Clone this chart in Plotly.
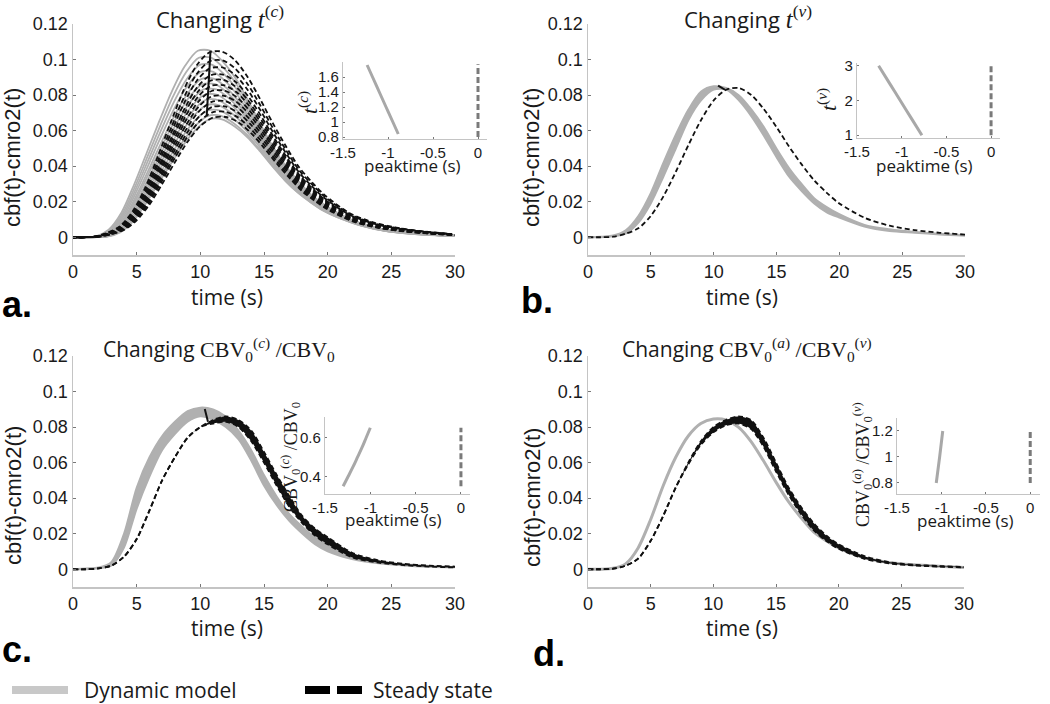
import plotly.graph_objects as go

W, H = 1050, 704

# ---------------- data ----------------
T = [0, 1, 2, 3, 4, 5, 6, 7, 8, 9, 10, 11, 12, 13, 14, 15, 16, 17, 18, 19, 20, 22, 24, 26, 28, 30]

# panel a: normalised response shapes, per-curve peak heights and peak-time offsets
A_GRAY_SHAPE = [0, 0, 0.005, 0.04, 0.13, 0.28, 0.45, 0.62, 0.78, 0.91, 0.99, 0.99, 0.93, 0.84, 0.72,
                0.59, 0.47, 0.37, 0.29, 0.22, 0.17, 0.095, 0.05, 0.028, 0.016, 0.01]
A_GRAY_PEAK = [0.106, 0.102, 0.098, 0.094, 0.090, 0.087, 0.084, 0.081, 0.078, 0.075, 0.072, 0.069, 0.067]
A_GRAY_SHIFT = [-0.2, -0.12, -0.05, 0.02, 0.1, 0.17, 0.25, 0.32, 0.4, 0.47, 0.55, 0.62, 0.7]
A_BLACK_SHAPE = [0, 0, 0.004, 0.024, 0.06, 0.14, 0.27, 0.44, 0.62, 0.79, 0.92, 0.99, 0.995, 0.95, 0.86,
                 0.74, 0.61, 0.49, 0.38, 0.30, 0.23, 0.13, 0.077, 0.048, 0.03, 0.018]
A_BLACK_PEAK = [0.105, 0.100, 0.096, 0.092, 0.089, 0.086, 0.083, 0.080, 0.077, 0.074, 0.071, 0.068]
A_BLACK_SHIFT = [-0.3, -0.27, -0.25, -0.22, -0.2, -0.17, -0.15, -0.12, -0.1, -0.07, -0.05, 0.0]
A_PEAK_T = [10.8, 10.5]
A_PEAK_V = [0.105, 0.068]

# panel b
B_GRAY_UP = [0, 0.0003, 0.001, 0.004, 0.012, 0.025, 0.042, 0.058, 0.072, 0.082, 0.085, 0.084, 0.080, 0.072,
             0.062, 0.050, 0.039, 0.030, 0.022, 0.017, 0.013, 0.007, 0.0045, 0.003, 0.002, 0.0012]
B_GRAY_LO = [0, 0, 0.0005, 0.002, 0.008, 0.019, 0.034, 0.050, 0.066, 0.077, 0.083, 0.083, 0.077, 0.068,
             0.057, 0.045, 0.034, 0.026, 0.019, 0.014, 0.011, 0.006, 0.0035, 0.0025, 0.0015, 0.0008]
B_BLACK = [0, 0, 0.0003, 0.002, 0.005, 0.012, 0.023, 0.037, 0.052, 0.066, 0.077, 0.083, 0.084, 0.080,
           0.072, 0.062, 0.051, 0.041, 0.032, 0.025, 0.019, 0.011, 0.0065, 0.004, 0.0025, 0.0015]
B_PEAK_T = [10.35, 10.9]
B_PEAK_V = [0.0853, 0.083]

# panel c
C_GRAY_UP = [0, 0.0005, 0.001, 0.004, 0.020, 0.046, 0.063, 0.075, 0.083, 0.089, 0.091, 0.090, 0.086, 0.078,
             0.067, 0.053, 0.041, 0.031, 0.024, 0.018, 0.014, 0.0075, 0.0042, 0.0028, 0.0019, 0.0013]
C_GRAY_LO = [0, 0, 0.0005, 0.002, 0.012, 0.034, 0.052, 0.067, 0.076, 0.083, 0.086, 0.084, 0.080, 0.073,
             0.061, 0.047, 0.036, 0.027, 0.020, 0.014, 0.010, 0.0055, 0.0033, 0.0021, 0.0014, 0.001]
C_BLACK_UP = [0, 0, 0.0005, 0.002, 0.007, 0.017, 0.033, 0.050, 0.063, 0.074, 0.080, 0.084, 0.086, 0.084,
              0.078, 0.066, 0.053, 0.041, 0.030, 0.023, 0.018, 0.009, 0.005, 0.003, 0.002, 0.0015]
C_BLACK_LO = [0, 0, 0.0005, 0.002, 0.007, 0.017, 0.033, 0.050, 0.063, 0.074, 0.080, 0.082, 0.083, 0.080,
              0.072, 0.060, 0.047, 0.035, 0.026, 0.019, 0.014, 0.0065, 0.0037, 0.0023, 0.0015, 0.001]
C_PEAK_T = [10.35, 10.6]
C_PEAK_V = [0.0902, 0.083]

# panel d
D_GRAY = [0, 0, 0.0005, 0.003, 0.012, 0.028, 0.047, 0.063, 0.075, 0.082, 0.0845, 0.084, 0.080, 0.072,
          0.061, 0.049, 0.038, 0.029, 0.021, 0.016, 0.012, 0.0065, 0.0038, 0.0025, 0.0017, 0.001]
D_BLACK_UP = [0, 0, 0.0003, 0.002, 0.006, 0.016, 0.030, 0.046, 0.060, 0.072, 0.080, 0.084, 0.086, 0.084,
              0.074, 0.060, 0.046, 0.035, 0.026, 0.019, 0.014, 0.0075, 0.004, 0.0025, 0.0018, 0.0013]
D_BLACK_LO = [0, 0, 0.0003, 0.002, 0.006, 0.016, 0.030, 0.046, 0.059, 0.070, 0.077, 0.081, 0.082, 0.079,
              0.069, 0.055, 0.042, 0.031, 0.022, 0.016, 0.0115, 0.006, 0.0033, 0.0021, 0.0015, 0.001]

# insets: parameter value vs peak time (s)
A_INS_PARAM = [0.84, 1.0, 1.2, 1.4, 1.6, 1.76]
A_INS_PEAKTIME = [-0.886, -0.946, -1.022, -1.097, -1.172, -1.232]
A_INS_SS_PARAM = [0.8, 1.77]
B_INS_PARAM = [1.0, 1.5, 2.0, 2.5, 3.0]
B_INS_PEAKTIME = [-0.774, -0.895, -1.016, -1.137, -1.258]
B_INS_SS_PARAM = [1.0, 3.0]
C_INS_PARAM = [0.35, 0.40, 0.45, 0.50, 0.55, 0.60, 0.65]
C_INS_PEAKTIME = [-1.30, -1.245, -1.19, -1.14, -1.09, -1.045, -1.0]
C_INS_SS_PARAM = [0.35, 0.65]
D_INS_PARAM = [0.8, 1.0, 1.2]
D_INS_PEAKTIME = [-1.058, -1.02, -0.985]
D_INS_SS_PARAM = [0.8, 1.2]
SS_PEAKTIME = [0, 0]

X_TICKS = [0, 5, 10, 15, 20, 25, 30]
Y_TICKS = [0, 0.02, 0.04, 0.06, 0.08, 0.1, 0.12]
Y_TICKTEXT = ["0", "0.02", "0.04", "0.06", "0.08", "0.1", "0.12"]
INS_X_TICKS = [-1.5, -1, -0.5, 0]
INS_X_TEXT = ["-1.5", "-1", "-0.5", "0"]

# ---------------- styling ----------------
GRAY = "#b0b0b0"
BLACK = "#111111"
AXCOL = "#c4c4c4"
TXT = "#1a1a1a"
SANS = "Liberation Sans"
LABF = "Open Sans"
SERIF = "Liberation Serif"

fig = go.Figure()


def ax(kind, i):
    return kind if i == 1 else f"{kind}{i}"


def px_x(p):
    return p / W


def px_y(p):
    return 1 - p / H


def line(i, x, y, color, width, dash=None, fill=None):
    fig.add_trace(go.Scatter(
        x=x, y=y, mode="lines", xaxis=ax("x", i), yaxis=ax("y", i),
        line=dict(color=color, width=width, dash=dash, shape="spline", smoothing=0.8),
        fill=fill, fillcolor=color if fill else None,
        hoverinfo="skip", showlegend=False))


# panel a
for pk, sh in zip(A_GRAY_PEAK, A_GRAY_SHIFT):
    line(1, [t + sh for t in T], [pk * s for s in A_GRAY_SHAPE], GRAY, 1.8)
for pk, sh in zip(A_BLACK_PEAK, A_BLACK_SHIFT):
    line(1, [t + sh for t in T], [pk * s for s in A_BLACK_SHAPE], BLACK, 1.8, dash="5px,3px")
fig.add_trace(go.Scatter(x=A_PEAK_T, y=A_PEAK_V, mode="lines", xaxis="x", yaxis="y",
                         line=dict(color=BLACK, width=2), hoverinfo="skip", showlegend=False))

# panel b
line(2, T, B_GRAY_LO, GRAY, 1.8)
line(2, T, B_GRAY_UP, GRAY, 1.8, fill="tonexty")
line(2, T, B_BLACK, BLACK, 1.8, dash="5px,3px")
fig.add_trace(go.Scatter(x=B_PEAK_T, y=B_PEAK_V, mode="lines", xaxis="x2", yaxis="y2",
                         line=dict(color=BLACK, width=2), hoverinfo="skip", showlegend=False))

# panel c
line(3, T, C_GRAY_LO, GRAY, 1.8)
line(3, T, C_GRAY_UP, GRAY, 1.8, fill="tonexty")
line(3, T, C_BLACK_LO, BLACK, 1.8, dash="5px,3px")
line(3, T, C_BLACK_UP, BLACK, 1.8, dash="5px,3px", fill="tonexty")
fig.add_trace(go.Scatter(x=C_PEAK_T, y=C_PEAK_V, mode="lines", xaxis="x3", yaxis="y3",
                         line=dict(color=BLACK, width=2), hoverinfo="skip", showlegend=False))

# panel d
line(4, T, D_GRAY, GRAY, 3)
line(4, T, D_BLACK_LO, BLACK, 1.8, dash="5px,3px")
line(4, T, D_BLACK_UP, BLACK, 1.8, dash="5px,3px", fill="tonexty")

# insets
for i, (pt, pr, ssp) in zip([5, 6, 7, 8], [
        (A_INS_PEAKTIME, A_INS_PARAM, A_INS_SS_PARAM),
        (B_INS_PEAKTIME, B_INS_PARAM, B_INS_SS_PARAM),
        (C_INS_PEAKTIME, C_INS_PARAM, C_INS_SS_PARAM),
        (D_INS_PEAKTIME, D_INS_PARAM, D_INS_SS_PARAM)]):
    fig.add_trace(go.Scatter(x=pt, y=pr, mode="lines", xaxis=f"x{i}", yaxis=f"y{i}",
                             line=dict(color="#a8a8a8", width=3, shape="spline"),
                             hoverinfo="skip", showlegend=False))
    fig.add_trace(go.Scatter(x=SS_PEAKTIME, y=ssp, mode="lines", xaxis=f"x{i}", yaxis=f"y{i}",
                             line=dict(color="#7a7a7a", width=3, dash="6px,3px"),
                             hoverinfo="skip", showlegend=False))

# ---------------- axes ----------------
MAIN = {1: ((73, 455), (24, 255)), 2: ((588, 965), (24, 255)),
        3: ((73, 455), (356, 587)), 4: ((588, 964), (356, 587))}
layout = {}
for i, ((x0, x1), (y0, y1)) in MAIN.items():
    layout[ax("xaxis", i)] = dict(
        domain=[px_x(x0), px_x(x1)], range=[0, 30], anchor=ax("y", i), automargin=False,
        tickvals=X_TICKS, ticks="inside", ticklen=3, tickcolor="#777",
        showline=True, linecolor=AXCOL, linewidth=1.5, showgrid=False, zeroline=False,
        tickfont=dict(family=SANS, size=18, color=TXT), fixedrange=True)
    layout[ax("yaxis", i)] = dict(
        domain=[px_y(y1), px_y(y0)], range=[-0.01, 0.12], anchor=ax("x", i), automargin=False,
        tickvals=Y_TICKS, ticktext=Y_TICKTEXT, ticks="inside", ticklen=3, tickcolor="#777",
        showline=True, linecolor=AXCOL, linewidth=1.5, showgrid=False, zeroline=False,
        tickfont=dict(family=SANS, size=18, color=TXT), fixedrange=True)

INSET = {5: ((343, 487), (62, 138.5), [-1.5, 0.1], [0.78, 1.8], [0.8, 1, 1.2, 1.4, 1.6], ["0.8", "1", "1.2", "1.4", "1.6"]),
         6: ((857, 1000), (63, 138), [-1.5, 0.1], [0.92, 3.08], [1, 2, 3], ["1", "2", "3"]),
         7: ((325, 470), (417, 494), [-1.5, 0.1], [0.31, 0.705], [0.4, 0.6], ["0.4", "0.6"]),
         8: ((897, 1040), (418, 494), [-1.5, 0.11], [0.715, 1.3], [0.8, 1, 1.2], ["0.8", "1", "1.2"])}
for i, ((x0, x1), (y0, y1), xr, yr, yt, ytt) in INSET.items():
    layout[f"xaxis{i}"] = dict(
        domain=[px_x(x0), px_x(x1)], range=xr, anchor=f"y{i}", automargin=False,
        tickvals=INS_X_TICKS, ticktext=INS_X_TEXT, ticks="inside", ticklen=2, tickcolor="#777",
        showline=True, linecolor=AXCOL, linewidth=1.2, showgrid=False, zeroline=False,
        tickfont=dict(family=SANS, size=15, color=TXT), fixedrange=True)
    layout[f"yaxis{i}"] = dict(
        domain=[px_y(y1), px_y(y0)], range=yr, anchor=f"x{i}", automargin=False,
        tickvals=yt, ticktext=ytt, ticks="inside", ticklen=2, tickcolor="#777",
        showline=True, linecolor=AXCOL, linewidth=1.2, showgrid=False, zeroline=False,
        tickfont=dict(family=SANS, size=15, color=TXT), fixedrange=True)

# ---------------- text ----------------
ann = []


def text(s, x, y, size, family=LABF, angle=0, xanchor="center", color=TXT):
    ann.append(dict(text=s, x=px_x(x), y=px_y(y), xref="paper", yref="paper", showarrow=False,
                    xanchor=xanchor, yanchor="middle", textangle=angle,
                    font=dict(family=family, size=size, color=color)))


def serif(s, size):
    return f"<span style='font-family:{SERIF};font-size:{size}px'>{s}</span>"


text("Changing " + serif("<i>t</i><sup>(<i>c</i>)</sup>", 25), 220, 17, 22)
text("Changing " + serif("<i>t</i><sup>(<i>v</i>)</sup>", 25), 748, 17, 22)
text("Changing " + serif("CBV<sub>0</sub><sup>(<i>c</i>)</sup> /CBV<sub>0</sub>", 22), 219, 350, 21)
text("Changing " + serif("CBV<sub>0</sub><sup>(<i>a</i>)</sup> /CBV<sub>0</sub><sup>(<i>v</i>)</sup>", 22), 747, 350, 21)

for x, y in [(13, 158), (532, 158), (13, 496), (532, 498)]:
    text("cbf(t)-cmro2(t)", x, y, 22, family=SANS, angle=-90)
for x, y in [(227, 297), (742, 297), (227, 628), (742, 628)]:
    text("time (s)", x, y, 21)
for x, y in [(412, 165), (924, 165), (393, 519), (965, 520)]:
    text("peaktime (s)", x, y, 17)

text("<i>t</i><sup>(<i>c</i>)</sup>", 308, 103, 22, family=SERIF, angle=-90)
text("<i>t</i><sup>(<i>v</i>)</sup>", 827, 100, 22, family=SERIF, angle=-90)
text("CBV<sub>0</sub><sup>(<i>c</i>)</sup> /CBV<sub>0</sub>", 290, 457, 18, family=SERIF, angle=-90)
text("CBV<sub>0</sub><sup>(<i>a</i>)</sup> /CBV<sub>0</sub><sup>(<i>v</i>)</sup>", 862, 465, 18, family=SERIF, angle=-90)

text("<b>a.</b>", 0, 304, 36, family=SANS, xanchor="left", color="#000")
text("<b>b.</b>", 519, 300, 36, family=SANS, xanchor="left", color="#000")
text("<b>c.</b>", 0, 649, 36, family=SANS, xanchor="left", color="#000")
text("<b>d.</b>", 531, 653, 36, family=SANS, xanchor="left", color="#000")

text("Dynamic model", 82, 690, 21, xanchor="left")
text("Steady state", 371, 690, 21, xanchor="left")

shapes = [
    dict(type="line", xref="paper", yref="paper", x0=px_x(12), x1=px_x(68), y0=px_y(690), y1=px_y(690),
         line=dict(color="#c8c8c8", width=8)),
    dict(type="line", xref="paper", yref="paper", x0=px_x(305), x1=px_x(362), y0=px_y(690), y1=px_y(690),
         line=dict(color="#000", width=8, dash="25px,7px")),
]

fig.update_layout(
    width=W, height=H, margin=dict(l=0, r=0, t=0, b=0, pad=0),
    paper_bgcolor="white", plot_bgcolor="rgba(0,0,0,0)",
    showlegend=False, hovermode=False,
    annotations=ann, shapes=shapes, **layout)

fig.write_html("out.html", config={"displayModeBar": False, "staticPlot": True},
               post_script="document.body.style.margin='0';document.body.style.padding='0';"
                           "document.body.style.overflow='hidden';")
